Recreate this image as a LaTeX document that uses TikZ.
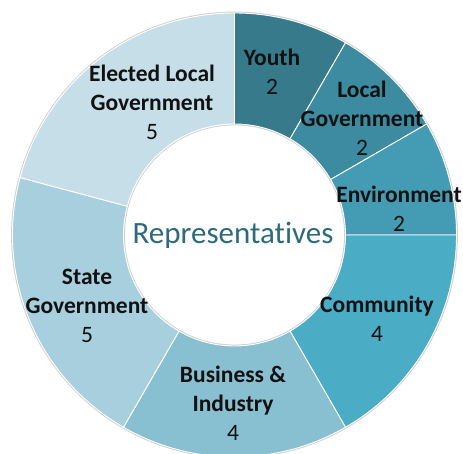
\documentclass[tikz,border=0pt]{standalone}
\usepackage{fontspec}
\setmainfont{Carlito}[Ligatures=NoCommon]
\definecolor{cYouth}{HTML}{367A8B}
\definecolor{cLocal}{HTML}{3D8BA0}
\definecolor{cEnv}{HTML}{449CB4}
\definecolor{cComm}{HTML}{4BACC6}
\definecolor{cBus}{HTML}{88BFD1}
\definecolor{cState}{HTML}{A8CFDD}
\definecolor{cElect}{HTML}{C5DEE7}
\definecolor{cTitle}{HTML}{2D6B7C}
\definecolor{cLabel}{HTML}{111111}
\newcommand{\ringseg}[3]{%
  \fill[#3, draw=white, line width=0.9pt] (#1:222) arc[start angle=#1, end angle=#2, radius=222]
    -- (#2:111) arc[start angle=#2, end angle=#1, radius=111] -- cycle;}
\tikzset{
  seglabel/.style={align=center, inner sep=0pt, text=cLabel,
    font=\fontsize{23.5}{29}\selectfont},
  titlelabel/.style={inner sep=0pt, text=cTitle, font=\fontsize{31}{36}\selectfont}
}
\begin{document}
\begin{tikzpicture}[x=1pt,y=1pt]
\useasboundingbox (-234.5,-219) rectangle (228.5,235);
\fill[white] (-234.5,-219) rectangle (228.5,235);
% soft shadow
\draw[black!18, line width=1.6pt] (0,0) circle[radius=222.6];
\draw[black!18, line width=1.6pt] (0,0) circle[radius=110.4];
\ringseg{90}{60}{cYouth}
\ringseg{60}{30}{cLocal}
\ringseg{30}{0}{cEnv}
\ringseg{0}{-60}{cComm}
\ringseg{-60}{-120}{cBus}
\ringseg{-120}{-195}{cState}
\ringseg{165}{90}{cElect}
\node[seglabel] (youth) at (37.5,163) {\textbf{Youth}\\2};
\node[seglabel] (local) at (127.5,117) {\textbf{Local}\\\textbf{Government}\\2};
\node[seglabel] (env) at (164.5,26.5) {\textbf{Environment}\\2};
\node[seglabel] (comm) at (142.5,-84) {\textbf{Community}\\4};
\node[seglabel] (bus) at (-1.5,-168) {\textbf{Business \&}\\\textbf{Industry}\\4};
\node[seglabel] (state) at (-147.5,-71) {\textbf{State}\\\textbf{Government}\\5};
\node[seglabel] (elect) at (-82.5,133) {\textbf{Elected Local}\\\textbf{Government}\\5};
\node[titlelabel] (title) at (-1.5,0) {Representatives};
\end{tikzpicture}
\end{document}
